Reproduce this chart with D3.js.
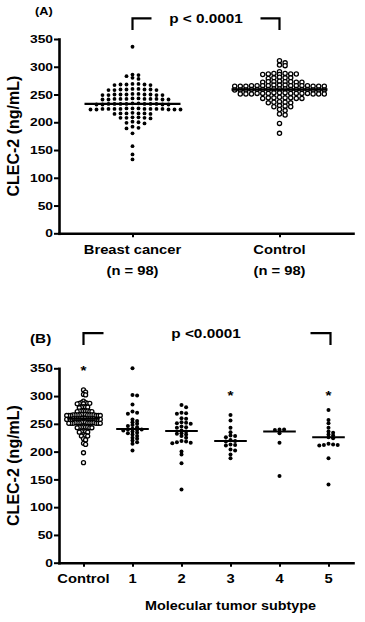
<!DOCTYPE html>
<html>
<head>
<meta charset="utf-8">
<script src="https://cdn.jsdelivr.net/npm/d3@7"></script>
<style>
  body { margin: 0; background: #fff; }
</style>
</head>
<body>
<div id="chart"></div>
<script>
// panel A data
const categoriesA = ["Breast cancer", "Control"];
const groupSizesA = ["(n = 98)", "(n = 98)"];
const breastCancer = [
    336,
    286, 285, 283, 280, 278,
    269, 269, 268, 268, 268, 267, 267,
    260, 260, 259, 259, 259, 259, 258, 258, 258,
    251, 251, 250, 250, 250, 250, 250, 249, 249, 249, 249,
    243, 243, 242, 242, 242, 242, 242, 242, 241, 241, 241, 241,
    234, 234, 233, 233, 233, 233, 233, 233, 233, 232, 232, 232, 232,
    225, 225, 225, 224, 224, 224, 224, 224, 224, 224, 224, 223, 223, 223, 223, 223,
    217, 216, 216, 216, 216, 215, 215,
    209, 209, 208, 208, 208, 207,
    201, 200, 199, 198,
    192, 190, 189,
    180,
    157, 142, 133
];
const control = [
    311, 307, 303, 302, 291,
    288, 288, 287, 287, 287, 286, 286,
    281, 280, 280, 280, 279,
    274, 273, 273, 273, 273, 272, 272, 272,
    267, 267, 267, 266, 266, 266, 266, 266, 266, 266, 266, 265, 265, 265, 265, 265, 265,
    260, 260, 260, 259, 259, 259, 259, 259, 259, 259, 259, 258, 258, 258, 258, 258, 258,
    253, 253, 253, 252, 252, 252, 252, 252, 252, 252, 251, 251, 251, 251, 251, 251,
    245, 244, 244, 244, 244, 243, 243, 243,
    237, 236, 236, 235, 235,
    230, 229, 228, 228,
    223, 221,
    215, 213,
    198, 180
];

// panel B data
const categoriesB = ["Control", "1", "2", "3", "4", "5"];
const subtype1 = [350, 302, 301, 285, 272, 270, 268, 258, 255, 253, 250, 248, 246, 244, 241,
    240, 240, 239, 238, 236, 234, 233, 231, 228, 225, 223, 220, 217, 214, 202];
const subtype2 = [284, 280, 270, 269, 268, 260, 259, 253, 252, 251, 250, 245, 244, 243, 238,
    236, 233, 232, 231, 228, 225, 219, 218, 217, 216, 215, 200, 195, 179, 132];
const subtype3 = [266, 256, 243, 235, 229, 228, 226, 221, 219, 218, 213, 212, 211, 204, 202, 195, 188];
const subtype4 = [240, 240, 239, 233, 216, 156];
const subtype5 = [275, 257, 251, 243, 236, 234, 231, 229, 226, 224, 214, 213, 212, 212, 211, 188, 141];
const seriesB = [control, subtype1, subtype2, subtype3, subtype4, subtype5];

const yTicks = [0, 50, 100, 150, 200, 250, 300, 350];
const pTextA = "p < 0.0001";
const pTextB = "p <0.0001";
const starCats = ["Control", "3", "5"];
const starLevels = [352, 306, 306];

const FONT = "'Liberation Sans', Arial, Helvetica, sans-serif";
const W = 365, H = 622;

const svg = d3.select("#chart")
    .append("svg")
    .attr("width", W)
    .attr("height", H)
    .attr("font-family", FONT);

svg.append("rect").attr("width", W).attr("height", H).attr("fill", "#fff");

// bold text, a bit wider like the original figure
function addText(x, y, str, size, anchor = "middle", sx = 1.18) {
    return svg.append("text")
        .attr("transform", `translate(${x},${y}) scale(${sx},1)`)
        .attr("text-anchor", anchor)
        .attr("font-size", size)
        .attr("font-weight", "bold")
        .attr("fill", "#000")
        .text(str);
}

// simple greedy beeswarm: same-level points go side by side
function swarm(vals, y, s, rowH) {
    const placed = [];
    vals.slice().sort((a, b) => b - a).forEach(v => {
        const py = y(v);
        for (let k = 0; k < 200; k++) {
            const off = (k % 2 === 1 ? 1 : -1) * Math.ceil(k / 2) * s / 2;
            const hit = placed.some(p => Math.abs(p.y - py) < rowH && Math.abs(p.x - off) < s - 1e-6);
            if (!hit) { placed.push({ v: v, x: off, y: py }); break; }
        }
    });
    return placed;
}

function drawAxes(x, y, labelY) {
    const gy = svg.append("g")
        .attr("transform", `translate(${x.range()[0]},0)`)
        .call(d3.axisLeft(y).tickValues(yTicks).tickSize(5).tickPadding(0).tickSizeOuter(0));
    gy.attr("font-family", FONT).attr("font-size", 11.5);
    gy.select(".domain").attr("stroke-width", 2.6).attr("stroke-linecap", "square");
    gy.selectAll(".tick line").attr("stroke-width", 2);
    gy.selectAll(".tick text").attr("font-weight", "bold").attr("fill", "#000")
        .attr("transform", "scale(1.2,1)");

    const gx = svg.append("g")
        .attr("transform", `translate(0,${y(0)})`)
        .call(d3.axisBottom(x).tickSize(4).tickSizeOuter(0).tickFormat(""));
    gx.select(".domain").attr("stroke-width", 2.6).attr("stroke-linecap", "square");
    gx.selectAll(".tick line").attr("stroke-width", 2);

    const mid = (y.range()[0] + y.range()[1]) / 2;
    svg.append("text")
        .attr("transform", `translate(18.5,${mid}) rotate(-90)`)
        .attr("text-anchor", "middle")
        .attr("font-size", 16)
        .attr("font-weight", "bold")
        .text("CLEC-2 (ng/mL)");
}

function drawGroup(vals, cx, y, opt) {
    const pts = swarm(vals, y, opt.spacing, 2.6);
    svg.append("g").selectAll("circle")
        .data(pts)
        .join("circle")
        .attr("cx", d => cx + d.x)
        .attr("cy", d => d.y)
        .attr("r", opt.r)
        .attr("fill", opt.open ? "#fff" : "#000")
        .attr("stroke", opt.open ? "#000" : "none")
        .attr("stroke-width", opt.open ? 1.3 : 0);
    const m = d3.median(vals);
    svg.append("line")
        .attr("x1", cx - opt.half).attr("x2", cx + opt.half)
        .attr("y1", y(m)).attr("y2", y(m))
        .attr("stroke", "#000")
        .attr("stroke-width", opt.lineW);
}

function bracket(x1, x2, yTop, yBot, arm) {
    svg.append("path")
        .attr("d", `M${x1},${yBot}V${yTop}H${x1 + arm}M${x2 - arm},${yTop}H${x2}V${yBot}`)
        .attr("fill", "none")
        .attr("stroke", "#000")
        .attr("stroke-width", 2.2);
}

// ---------- Panel A ----------
const xA = d3.scalePoint().domain(categoriesA).range([59, 353]).padding(0.5);
const yA = d3.scaleLinear().domain([0, 350]).range([233.3, 39]);
drawAxes(xA, yA);

drawGroup(breastCancer, xA("Breast cancer"), yA, { spacing: 6, r: 1.9, open: false, half: 48, lineW: 2.3 });
drawGroup(control, xA("Control"), yA, { spacing: 5.6, r: 2.1, open: true, half: 48, lineW: 2.3 });

categoriesA.forEach((c, i) => {
    addText(xA(c), 254, c, 12.5);
    addText(xA(c), 275, groupSizesA[i], 12.5);
});

addText(35, 15, "(A)", 10.8, "start");
bracket(xA("Breast cancer"), xA("Control"), yA(387), yA(366), 19);
addText((xA("Breast cancer") + xA("Control")) / 2, 23.3, pTextA, 13);

// ---------- Panel B ----------
const xB = d3.scalePoint().domain(categoriesB).range([59, 353]).padding(0.5);
const yB = d3.scaleLinear().domain([0, 350]).range([562.7, 368.3]);
drawAxes(xB, yB);

seriesB.forEach((vals, i) => {
    const open = i === 0;
    drawGroup(vals, xB(categoriesB[i]), yB, {
        spacing: open ? 2.1 : 4.6,
        r: 2,
        open: open,
        half: 16.3,
        lineW: 2
    });
});

categoriesB.forEach(c => addText(xB(c), 583.3, c, 12.5));
addText((xB("1") + xB("5")) / 2, 610, "Molecular tumor subtype", 12, "middle", 1.2);

addText(30, 343.3, "(B)", 13, "start");
bracket(xB("Control"), xB("5") + 2, yB(413.5), yB(392), 20);
addText((xB("Control") + xB("5")) / 2, 338.3, pTextB, 13);

starCats.forEach((c, i) => {
    addText(xB(c), yB(starLevels[i]) + 7.5, "*", 13);
});
</script>
</body>
</html>
